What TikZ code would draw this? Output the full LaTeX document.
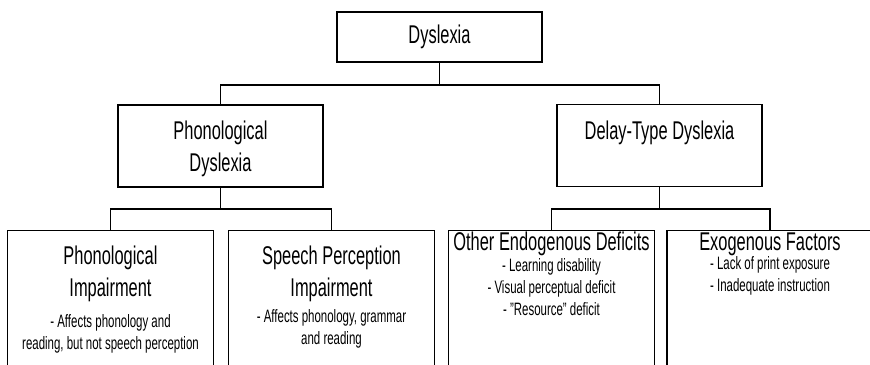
\documentclass[tikz,border=0pt]{standalone}
\usepackage{fontspec}
\setmainfont{Liberation Sans}[FakeStretch=0.64]
\usepackage{tikz}
\usetikzlibrary{positioning, calc}

\tikzset{
  box/.style  ={draw=black, line width=0.8pt, inner sep=0pt},
  L0/.style   ={box, minimum width=4.1cm, minimum height=1cm},
  L1/.style   ={box, minimum width=4.1cm, minimum height=1.64cm},
  L2/.style   ={box, minimum width=4.12cm, minimum height=3cm, anchor=north},
  head/.style ={align=center, inner sep=0pt,
                font=\fontsize{14.6}{18.1}\selectfont},
  sub/.style  ={align=center, inner sep=0pt,
                font=\fontsize{10.2}{12.5}\selectfont},
  link/.style ={-, black, line width=0.8pt},
}

\begin{document}
\begin{tikzpicture}[x=0.02cm, y=-0.02cm]

\useasboundingbox (0,0) rectangle (870,365);
\clip (0,0) rectangle (870,365);

% root
\node[L0] (DY) at (439.5, 37) {};
\node[head] (DYt) at (439.5, 37) {Dyslexia};

% two kinds
\node[L1] (PD) at (220.5, 146) {};
\node[head] (PDt) at (220.5, 149) {Phonological\\Dyslexia};
\node[L1] (DT) at (659.5, 145.5) {};
\node[head] (DTt) at (659.5, 133) {Delay-Type Dyslexia};

\coordinate (J0) at (439.5, 85);
\draw[link] (DY.south) -- (J0);
\draw[link] (PD.north) |- (J0) -| (DT.north);

% phonological branch
\node[L2] (PI) at (110.5, 230) {};
\node[head] (PIt) at (110.5, 274) {Phonological\\Impairment};
\node[sub]  (PIs) at (110.5, 334)
  {- Affects phonology and\\reading, but not speech perception};

\node[L2] (SP) at (331.5, 230) {};
\node[head] (SPt) at (331.5, 274) {Speech Perception\\Impairment};
\node[sub]  (SPs) at (331.5, 329)
  {- Affects phonology, grammar\\and reading};

\coordinate (J1) at (220.5, 209);
\draw[link] (PD.south) -- (J1);
\draw[link] (PI.north) |- (J1) -| (SP.north);

% delay-type branch
\node[L2] (OE) at (551.5, 230) {};
\node[head] (OEt) at (551.5, 244) {Other Endogenous Deficits};
\node[sub]  (OEs) at (551.5, 287)
  {- Learning disability\\- Visual perceptual deficit\\- "Resource" deficit};

\node[L2] (EF) at (770, 230) {};
\node[head] (EFt) at (770, 244) {Exogenous Factors};
\node[sub]  (EFs) at (770, 276)
  {- Lack of print exposure\\- Inadequate instruction};

\coordinate (J2) at (659.5, 209);
\draw[link] (DT.south) -- (J2);
\draw[link] (OE.north) |- (J2) -| (EF.north);

\end{tikzpicture}
\end{document}
